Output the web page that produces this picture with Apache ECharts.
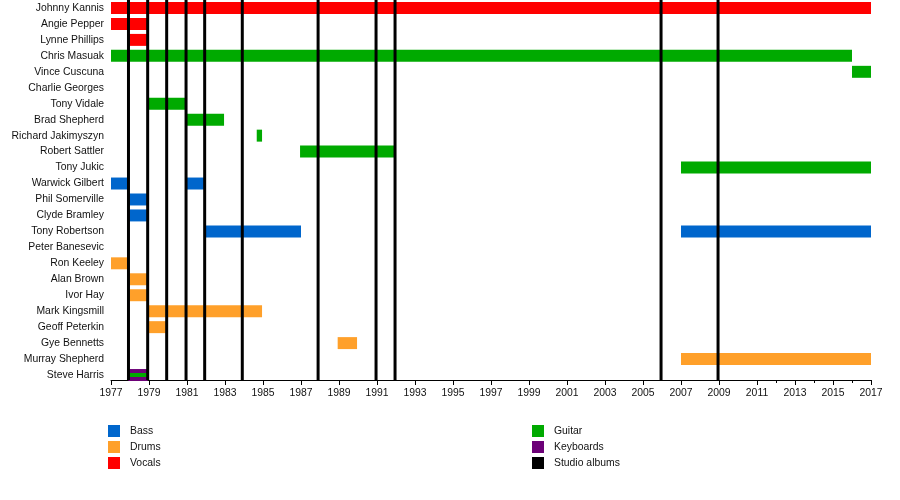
<!DOCTYPE html>
<html>
<head>
<meta charset="utf-8">
<script src="https://cdn.jsdelivr.net/npm/echarts@6/dist/echarts.min.js"></script>
<style>
  html, body { margin: 0; padding: 0; background: #fff; }
  #chart { width: 900px; height: 500px; }
</style>
</head>
<body>
<div id="chart"></div>
<script>
// members, top to bottom
var members = ['Johnny Kannis', 'Angie Pepper', 'Lynne Phillips', 'Chris Masuak', 'Vince Cuscuna',
    'Charlie Georges', 'Tony Vidale', 'Brad Shepherd', 'Richard Jakimyszyn', 'Robert Sattler',
    'Tony Jukic', 'Warwick Gilbert', 'Phil Somerville', 'Clyde Bramley', 'Tony Robertson',
    'Peter Banesevic', 'Ron Keeley', 'Alan Brown', 'Ivor Hay', 'Mark Kingsmill',
    'Geoff Peterkin', 'Gye Bennetts', 'Murray Shepherd', 'Steve Harris'];

// [from, to, member]
var bass = [
    [1977, 1977.95, 'Warwick Gilbert'], [1980.97, 1981.95, 'Warwick Gilbert'],
    [1977.92, 1978.93, 'Phil Somerville'], [1977.92, 1978.93, 'Clyde Bramley'],
    [1981.95, 1987, 'Tony Robertson'], [2007, 2017, 'Tony Robertson']
];
var drums = [
    [1977, 1977.95, 'Ron Keeley'], [1977.92, 1978.93, 'Alan Brown'], [1977.92, 1978.93, 'Ivor Hay'],
    [1978.95, 1984.95, 'Mark Kingsmill'], [1978.95, 1979.95, 'Geoff Peterkin'],
    [1988.93, 1989.95, 'Gye Bennetts'], [2007, 2017, 'Murray Shepherd']
];
var vocals = [
    [1977, 2017, 'Johnny Kannis'], [1977, 1978.93, 'Angie Pepper'], [1977.92, 1978.93, 'Lynne Phillips']
];
var guitar = [
    [1977, 2016, 'Chris Masuak'], [2016, 2017, 'Vince Cuscuna'], [1978.93, 1979.0, 'Charlie Georges'],
    [1978.95, 1980.97, 'Tony Vidale'], [1980.97, 1982.95, 'Brad Shepherd'],
    [1984.67, 1984.95, 'Richard Jakimyszyn'], [1986.95, 1991.95, 'Robert Sattler'],
    [2007, 2017, 'Tony Jukic']
];
var keyboards = [[1977.92, 1978.93, 'Steve Harris']];
var keyboardGuitar = [[1977.92, 1978.93, 'Steve Harris']];   // guitar stripe inside the keyboards bar
var albums = [1977.92, 1978.93, 1979.93, 1980.95, 1981.93, 1983.91, 1987.9, 1990.95, 1991.95, 2005.95, 2008.95];

var yearTicks = [1977, 2017, 2];   // min, max, step
var minorTicks = [2012, 2014, 2016];

var colors = { Bass: '#0066cc', Drums: '#ffa02a', Vocals: '#ff0000', Guitar: '#00aa00', Keyboards: '#6c0077', 'Studio albums': '#000000' };

function rows(list) {
    return list.map(function (d) { return [d[0], d[1], members.indexOf(d[2])]; });
}

function barItem(frac) {
    return function (params, api) {
        var r = api.value(2);
        var p0 = api.coord([api.value(0), r]);
        var p1 = api.coord([api.value(1), r]);
        var h = api.size([0, 1])[1] * frac;
        return {
            type: 'rect',
            shape: { x: p0[0], y: p0[1] - h / 2, width: Math.max(p1[0] - p0[0], 1), height: h },
            style: api.style()
        };
    };
}

function barSeries(name, list, frac) {
    return {
        name: name,
        type: 'custom',
        renderItem: barItem(frac),
        encode: { x: [0, 1], y: 2 },
        itemStyle: { color: colors[name] },
        data: rows(list),
        z: 2
    };
}

var series = [
    barSeries('Bass', bass, 0.75),
    barSeries('Drums', drums, 0.75),
    barSeries('Vocals', vocals, 0.75),
    barSeries('Guitar', guitar, 0.75),
    barSeries('Keyboards', keyboards, 0.75),
    barSeries('Guitar', keyboardGuitar, 0.25),
    {
        name: 'Studio albums',
        type: 'custom',
        encode: { x: 0, y: 1 },
        itemStyle: { color: '#000' },
        data: albums.map(function (v) { return [v, 0]; }),
        z: 5,
        renderItem: function (params, api) {
            var p = api.coord([api.value(0), 0]);
            var cs = params.coordSys;
            return {
                type: 'line',
                shape: { x1: p[0], y1: cs.y, x2: p[0], y2: cs.y + cs.height - 3 },
                style: { stroke: '#000', lineWidth: 3 }
            };
        }
    }
];

var font = 'Liberation Sans, Arial, sans-serif';
var fs = 10.4;

var legendBase = {
    orient: 'vertical',
    top: 425,
    padding: 0,
    icon: 'rect',
    itemWidth: 12,
    itemHeight: 12,
    itemGap: 4,
    selectedMode: false,
    textStyle: { fontSize: fs, color: '#111', fontFamily: font, padding: [0, 0, 0, 5] }
};

var option = {
    backgroundColor: '#fff',
    animation: false,
    legend: [
        Object.assign({ left: 108, data: ['Bass', 'Drums', 'Vocals'] }, legendBase),
        Object.assign({ left: 532, data: ['Guitar', 'Keyboards', 'Studio albums'] }, legendBase)
    ],
    grid: { left: 111, right: 29, top: -1, height: 384 },
    xAxis: [{
        type: 'value',
        min: yearTicks[0],
        max: yearTicks[1],
        interval: yearTicks[2],
        offset: -3,
        axisLine: { show: true, lineStyle: { color: '#000', width: 1 } },
        axisTick: { show: true, length: 5, lineStyle: { color: '#000' } },
        axisLabel: {
            fontSize: fs, color: '#111', fontFamily: font, margin: 8,
            formatter: function (v) { return String(v); }
        },
        splitLine: { show: false }
    }, {
        type: 'value',
        position: 'bottom',
        min: yearTicks[0],
        max: yearTicks[1],
        offset: -3,
        axisLine: { show: false },
        axisTick: { show: true, length: 3, customValues: minorTicks, lineStyle: { color: '#000' } },
        axisLabel: { show: false },
        splitLine: { show: false }
    }],
    yAxis: {
        type: 'category',
        inverse: true,
        data: members,
        axisLine: { show: false },
        axisTick: { show: false },
        axisLabel: { fontSize: fs, color: '#111', fontFamily: font, margin: 7 },
        splitLine: { show: false }
    },
    series: series
};

var chart = echarts.init(document.getElementById('chart'));
chart.setOption(option);
</script>
</body>
</html>
